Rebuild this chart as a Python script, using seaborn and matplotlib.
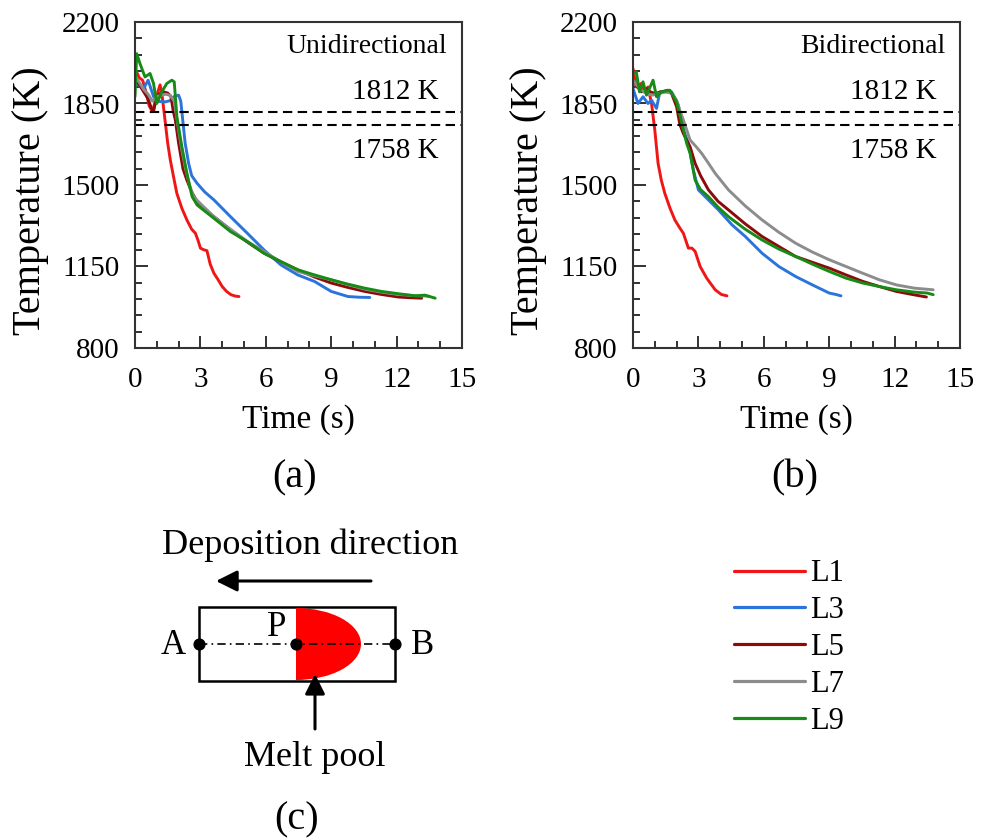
import numpy as np
import pandas as pd
import matplotlib
matplotlib.use("Agg")
import matplotlib.pyplot as plt
import seaborn as sns
from matplotlib.patches import Rectangle, Ellipse
from matplotlib.lines import Line2D

# ---------------- data ----------------
series = ["L1", "L3", "L5", "L7", "L9"]
colors = ["#f01616", "#2a74dc", "#8b0b0b", "#8c8c8c", "#168c16"]

# Panel (a) Unidirectional
a_L1_t = [0.05, 0.2, 0.35, 0.5, 0.65, 0.8, 0.9, 1.05, 1.15, 1.25, 1.35, 1.5, 1.62, 1.8, 1.92, 2.15, 2.38, 2.6, 2.77, 2.9, 3.0, 3.15, 3.3, 3.45, 3.62, 3.8, 4.0, 4.2, 4.4, 4.6, 4.77]
a_L1_T = [1990, 1960, 1950, 1900, 1840, 1815, 1850, 1900, 1930, 1880, 1800, 1680, 1607, 1520, 1464, 1400, 1350, 1310, 1293, 1260, 1229, 1222, 1218, 1160, 1121, 1095, 1064, 1043, 1029, 1023, 1021]
a_L3_t = [0.05, 0.2, 0.4, 0.6, 0.85, 1.0, 1.2, 1.4, 1.6, 1.8, 2.0, 2.1, 2.2, 2.3, 2.46, 2.6, 2.85, 3.2, 3.62, 4.0, 4.38, 5.15, 5.92, 6.69, 7.46, 8.23, 9.0, 9.77, 10.3, 10.77]
a_L3_T = [1940, 1925, 1915, 1950, 1880, 1860, 1858, 1857, 1862, 1880, 1886, 1860, 1770, 1680, 1593, 1540, 1507, 1470, 1436, 1400, 1364, 1293, 1221, 1157, 1114, 1086, 1043, 1021, 1018, 1017]
a_L5_t = [0.05, 0.2, 0.4, 0.6, 0.75, 0.85, 0.95, 1.1, 1.3, 1.5, 1.65, 1.75, 1.85, 2.0, 2.08, 2.2, 2.38, 2.6, 2.85, 3.2, 3.62, 4.38, 5.15, 5.92, 6.69, 7.46, 8.23, 9.0, 9.77, 10.54, 11.3, 12.08, 12.6, 13.15]
a_L5_T = [1950, 1930, 1900, 1870, 1830, 1815, 1860, 1890, 1900, 1895, 1880, 1820, 1779, 1680, 1636, 1570, 1521, 1470, 1429, 1395, 1364, 1307, 1255, 1207, 1170, 1136, 1105, 1079, 1060, 1043, 1030, 1019, 1016, 1014]
a_L7_t = [0.05, 0.2, 0.4, 0.6, 0.8, 1.0, 1.2, 1.4, 1.6, 1.8, 1.9, 2.0, 2.15, 2.3, 2.5, 2.69, 3.0, 3.62, 4.38, 5.15, 5.92, 6.69, 7.46, 8.23, 9.0, 9.77, 10.54, 11.3, 12.08, 12.8, 13.5]
a_L7_T = [1960, 1940, 1910, 1890, 1860, 1880, 1885, 1890, 1886, 1860, 1800, 1736, 1650, 1579, 1500, 1450, 1420, 1364, 1310, 1258, 1214, 1170, 1129, 1110, 1093, 1072, 1053, 1040, 1030, 1025, 1022]
a_L9_t = [0.0, 0.08, 0.23, 0.46, 0.69, 0.85, 1.0, 1.23, 1.46, 1.69, 1.8, 1.92, 2.15, 2.38, 2.62, 2.85, 3.62, 4.38, 5.15, 5.92, 6.69, 7.46, 8.23, 9.0, 9.77, 10.54, 11.3, 12.08, 12.85, 13.3, 13.77]
a_L9_T = [1880, 2064, 2021, 1964, 1979, 1936, 1850, 1900, 1936, 1950, 1943, 1793, 1664, 1550, 1450, 1414, 1357, 1300, 1257, 1207, 1171, 1136, 1114, 1093, 1074, 1057, 1043, 1033, 1024, 1027, 1014]

# Panel (b) Bidirectional
b_L1_t = [0.0, 0.15, 0.38, 0.54, 0.69, 0.85, 1.0, 1.15, 1.3, 1.46, 1.7, 1.92, 2.15, 2.31, 2.54, 2.7, 2.85, 3.08, 3.38, 3.77, 4.05, 4.31]
b_L1_T = [2000, 1921, 1936, 1900, 1921, 1850, 1736, 1593, 1520, 1464, 1400, 1350, 1315, 1293, 1229, 1229, 1215, 1150, 1100, 1050, 1030, 1024]
b_L3_t = [0.0, 0.23, 0.46, 0.69, 0.85, 1.08, 1.23, 1.5, 1.77, 2.08, 2.31, 2.54, 2.77, 3.0, 3.46, 3.92, 4.54, 5.15, 5.92, 6.69, 7.46, 8.23, 9.0, 9.3, 9.54]
b_L3_T = [1914, 1850, 1879, 1850, 1864, 1829, 1900, 1900, 1900, 1843, 1736, 1679, 1564, 1479, 1436, 1393, 1329, 1279, 1207, 1150, 1107, 1071, 1036, 1030, 1024]
b_L5_t = [0.0, 0.2, 0.4, 0.6, 0.8, 1.0, 1.3, 1.6, 1.77, 2.0, 2.15, 2.31, 2.62, 2.85, 3.1, 3.46, 3.9, 4.38, 5.15, 5.92, 6.69, 7.46, 8.23, 9.0, 9.77, 10.54, 11.3, 12.08, 12.8, 13.46]
b_L5_T = [1950, 1921, 1900, 1914, 1900, 1893, 1900, 1907, 1893, 1836, 1760, 1721, 1664, 1593, 1540, 1479, 1430, 1393, 1333, 1279, 1236, 1193, 1168, 1143, 1114, 1086, 1064, 1043, 1030, 1019]
b_L7_t = [0.0, 0.3, 0.6, 0.9, 1.2, 1.5, 1.8, 2.0, 2.15, 2.31, 2.62, 2.9, 3.15, 3.45, 3.77, 4.38, 5.15, 5.92, 6.69, 7.46, 8.23, 9.0, 9.77, 10.54, 11.3, 12.08, 12.9, 13.77]
b_L7_T = [1950, 1914, 1893, 1886, 1893, 1900, 1893, 1864, 1820, 1779, 1693, 1664, 1636, 1595, 1550, 1479, 1410, 1350, 1297, 1250, 1212, 1179, 1150, 1121, 1093, 1071, 1057, 1050]
b_L9_t = [0.0, 0.15, 0.3, 0.46, 0.62, 0.92, 1.08, 1.3, 1.69, 2.0, 2.23, 2.46, 2.62, 2.85, 3.1, 3.46, 3.9, 4.38, 5.15, 5.92, 6.69, 7.46, 8.23, 9.0, 9.77, 10.54, 11.3, 12.08, 12.9, 13.5, 13.77]
b_L9_T = [1979, 1986, 1900, 1943, 1886, 1950, 1879, 1900, 1907, 1857, 1771, 1679, 1636, 1521, 1480, 1450, 1405, 1364, 1310, 1264, 1225, 1193, 1160, 1129, 1100, 1079, 1064, 1050, 1040, 1036, 1029]

solidus_liquidus = [1812, 1758]
panel_titles = ["Unidirectional", "Bidirectional"]
panel_tags = ["(a)", "(b)"]
x_ticks = [0, 3, 6, 9, 12, 15]
y_ticks = [800, 1150, 1500, 1850, 2200]

def long_frame(pairs):
    rows = []
    for name, (t, T) in zip(series, pairs):
        rows.append(pd.DataFrame({"Time": t, "Temp": T, "Layer": name}))
    return pd.concat(rows, ignore_index=True)

df_a = long_frame([(a_L1_t, a_L1_T), (a_L3_t, a_L3_T), (a_L5_t, a_L5_T), (a_L7_t, a_L7_T), (a_L9_t, a_L9_T)])
df_b = long_frame([(b_L1_t, b_L1_T), (b_L3_t, b_L3_T), (b_L5_t, b_L5_T), (b_L7_t, b_L7_T), (b_L9_t, b_L9_T)])

# ---------------- style ----------------
sns.set_theme(style="white")
plt.rcParams["font.family"] = ["Liberation Serif", "DejaVu Serif"]
plt.rcParams["text.color"] = "black"
plt.rcParams["axes.labelcolor"] = "black"

W, H = 988, 839
fig = plt.figure(figsize=(W / 100, H / 100), dpi=100)
fig.patch.set_facecolor("white")

def frac(l, t, r, b):
    return [l / W, 1 - b / H, (r - l) / W, (b - t) / H]

axes = [fig.add_axes(frac(135, 22, 462, 348)), fig.add_axes(frac(633, 22, 960, 348))]
palette = dict(zip(series, colors))

for ax, df, title, tag in zip(axes, [df_a, df_b], panel_titles, panel_tags):
    sns.lineplot(data=df, x="Time", y="Temp", hue="Layer", palette=palette,
                 sort=False, estimator=None, units="Layer", ax=ax, lw=2.1, legend=False)
    for v in solidus_liquidus:
        ax.axhline(v, color="black", lw=1.5, dashes=(4.5, 2.6))
    ax.set_xlim(0, 15)
    ax.set_ylim(800, 2200)
    ax.set_xticks(x_ticks)
    ax.set_yticks(y_ticks)
    ax.set_xticks(np.arange(0, 15.01, 1), minor=True)
    ax.set_yticks(np.arange(800, 2200.01, 70), minor=True)
    ax.tick_params(axis="both", which="major", direction="in", length=9, width=1.3,
                   labelsize=21, colors="#222222", labelcolor="black",
                   bottom=True, left=True, top=False, right=False)
    ax.tick_params(axis="x", which="major", pad=14)
    ax.tick_params(axis="y", which="major", pad=11)
    ax.tick_params(axis="both", which="minor", direction="in", length=5, width=1.3,
                   colors="#222222", bottom=True, left=True, top=False, right=False)
    for s in ax.spines.values():
        s.set_visible(True)
        s.set_color("#333333")
        s.set_linewidth(1.5)
    ax.set_xlabel("Time (s)", fontsize=24, labelpad=8)
    ax.set_ylabel("Temperature (K)", fontsize=29)
    ax.yaxis.set_label_coords(-0.262, 0.452)
    ax.text(0.955, 0.925, title, transform=ax.transAxes, ha="right", va="center", fontsize=20)
    ax.text(0.93, 0.785, f"{solidus_liquidus[0]} K", transform=ax.transAxes, ha="right", va="center", fontsize=21)
    ax.text(0.93, 0.605, f"{solidus_liquidus[1]} K", transform=ax.transAxes, ha="right", va="center", fontsize=21)
    ax.grid(False)

# panel tags
fig.text(295 / W, 1 - 478 / H, "(a)", ha="center", va="center", fontsize=29)
fig.text(795 / W, 1 - 478 / H, "(b)", ha="center", va="center", fontsize=29)

# ---------------- schematic (c) ----------------
ov = fig.add_axes([0, 0, 1, 1], zorder=-1)
ov.set_xlim(0, W)
ov.set_ylim(H, 0)
ov.axis("off")

ov.text(310, 545, "Deposition direction", ha="center", va="center", fontsize=26)
ov.annotate("", xy=(216, 581), xytext=(371, 581),
            arrowprops=dict(arrowstyle="-|>", lw=2.2, color="black", mutation_scale=32,
                            shrinkA=0, shrinkB=0))
box = Rectangle((199, 607), 196, 74, fill=False, lw=1.8, ec="black")
ov.add_patch(box)
clip = Rectangle((296, 607), 99, 74, transform=ov.transData, fill=False, lw=0)
ov.add_patch(clip)
pool = Ellipse((296, 644), 130, 72, fc="#ff0000", ec="none")
ov.add_patch(pool)
pool.set_clip_path(clip)
ov.plot([199, 395], [644, 644], color="black", lw=1.2, ls=(0, (5, 2.5, 1, 2.5)))
ov.scatter([199, 296, 395], [644, 644, 644], s=60, color="black", zorder=5)
ov.text(173, 646, "A", ha="center", va="center", fontsize=25)
ov.text(423, 646, "B", ha="center", va="center", fontsize=25)
ov.text(277, 627, "P", ha="center", va="center", fontsize=25)
ov.annotate("", xy=(315, 674), xytext=(315, 729),
            arrowprops=dict(arrowstyle="-|>", lw=2.2, color="black", mutation_scale=30,
                            shrinkA=0, shrinkB=0))
ov.text(315, 757, "Melt pool", ha="center", va="center", fontsize=26)
ov.text(297, 820, "(c)", ha="center", va="center", fontsize=29)

# ---------------- legend ----------------
handles = [Line2D([0], [0], color=c, lw=2.3) for c in colors]
fig.legend(handles, series, loc="upper left", bbox_to_anchor=(722 / W, 1 - 547 / H),
           frameon=False, fontsize=22, handlelength=2.3, handletextpad=0.2,
           labelspacing=0.26, borderaxespad=0)

fig.savefig("out.png", dpi=100, facecolor="white")
